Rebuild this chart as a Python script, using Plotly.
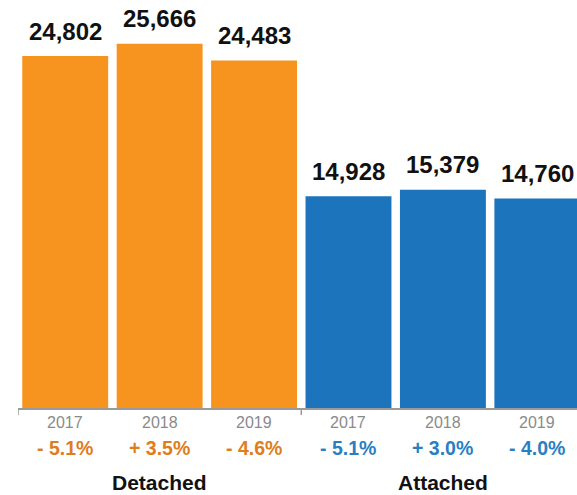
import plotly.graph_objects as go

# Housing sales by type and year
groups = ["Detached", "Attached"]
years = ["2017", "2018", "2019"]
detached = [24802, 25666, 24483]
attached = [14928, 15379, 14760]
detached_change = ["- 5.1%", "+ 3.5%", "- 4.6%"]
attached_change = ["- 5.1%", "+ 3.0%", "- 4.0%"]

ORANGE = "#F7941F"
BLUE = "#1C75BC"
ORANGE_TXT = "#DE7D1C"
BLUE_TXT = "#2A7FC3"
FONT = "Liberation Sans, Arial, Helvetica, sans-serif"

values = detached + attached
colors = [ORANGE] * len(detached) + [BLUE] * len(attached)
changes = detached_change + attached_change
change_colors = [ORANGE_TXT] * len(detached) + [BLUE_TXT] * len(attached)
year_labels = years + years
xs = list(range(len(values)))

fig = go.Figure(go.Bar(
    x=xs, y=values, marker=dict(color=colors, line=dict(width=0)),
    width=0.91, hoverinfo="skip",
))

annotations = []
for x, v in zip(xs, values):
    annotations.append(dict(
        x=x, y=v, xref="x", yref="y", text=f"<b>{v:,}</b>", showarrow=False,
        yanchor="middle", yshift=25, font=dict(size=24, color="#111111", family=FONT),
    ))
for x, yl, ch, cc in zip(xs, year_labels, changes, change_colors):
    annotations.append(dict(
        x=x, y=0, xref="x", yref="paper", text=yl, showarrow=False,
        yanchor="middle", yshift=-14, font=dict(size=16, color="#8a8a8a", family=FONT),
    ))
    annotations.append(dict(
        x=x, y=0, xref="x", yref="paper", text=f"<b>{ch}</b>", showarrow=False,
        yanchor="middle", yshift=-40, font=dict(size=19.5, color=cc, family=FONT),
    ))
for gi, g in enumerate(groups):
    annotations.append(dict(
        x=gi * 3 + 1, y=0, xref="x", yref="paper", text=f"<b>{g}</b>", showarrow=False,
        yanchor="middle", yshift=-74, font=dict(size=21, color="#111111", family=FONT),
    ))

# Group separator ticks on the category axis
shapes = []
for tx in [-0.5, 2.5]:
    shapes.append(dict(
        type="line", xref="x", yref="paper", x0=tx, x1=tx, y0=0, y1=-7 / 408,
        line=dict(color="#9a9a9a", width=1.5),
    ))

fig.update_layout(
    width=577, height=495,
    margin=dict(l=18, r=0, t=0, b=87),
    paper_bgcolor="white", plot_bgcolor="white",
    showlegend=False,
    xaxis=dict(range=[-0.5, 5.42], showgrid=False, zeroline=False,
               showticklabels=False, showline=True, linecolor="#9a9a9a", linewidth=1.5,
               fixedrange=True),
    yaxis=dict(range=[0, 28750], showgrid=False, zeroline=False,
               showticklabels=False, showline=False, fixedrange=True),
    annotations=annotations,
    shapes=shapes,
    font=dict(family=FONT),
)

fig.write_html("out.html", config={"displayModeBar": False})
